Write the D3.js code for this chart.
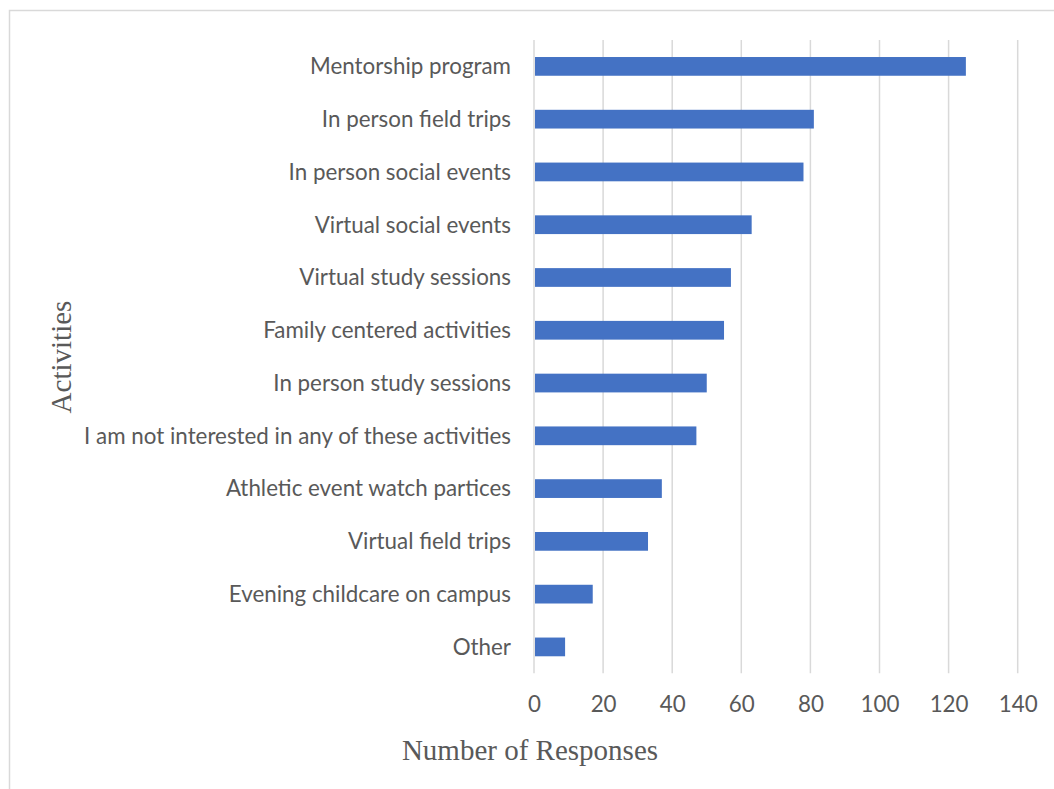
<!DOCTYPE html>
<html>
<head>
<meta charset="utf-8">
<script src="https://cdn.jsdelivr.net/npm/d3@7"></script>
<style>
  html, body { margin: 0; padding: 0; background: #fff; }
  svg { display: block; }
</style>
</head>
<body>
<svg id="chart" width="1054" height="789"></svg>
<script>
// Survey responses: interest in activities
const categories = [
  "Mentorship program",
  "In person field trips",
  "In person social events",
  "Virtual social events",
  "Virtual study sessions",
  "Family centered activities",
  "In person study sessions",
  "I am not interested in any of these activities",
  "Athletic event watch partices",
  "Virtual field trips",
  "Evening childcare on campus",
  "Other"
];
const responses = [125, 81, 78, 63, 57, 55, 50, 47, 37, 33, 17, 9];
const tickValues = [0, 20, 40, 60, 80, 100, 120, 140];
const xTitle = "Number of Responses";
const yTitle = "Activities";

const svg = d3.select("#chart");
const W = 1054, H = 789;
const plot = { left: 534, right: 1017.7, top: 40, bottom: 673.3 };
const barColor = "#4472C4";
const textColor = "#595959";
const gridColor = "#d9d9d9";
const labelFont = "Lato, 'Open Sans', sans-serif";
const titleFont = "'Liberation Serif', 'DejaVu Serif', serif";

// Outer chart frame (runs off the right and bottom edges)
svg.append("rect")
  .attr("x", 9.5).attr("y", 10.5)
  .attr("width", W + 20).attr("height", H + 20)
  .attr("fill", "none")
  .attr("stroke", gridColor)
  .attr("stroke-width", 1.5);

// Pick a label size so the longest category fits its space
function measure(text, font, size) {
  const t = svg.append("text").attr("font-family", font).attr("font-size", size).text(text);
  const w = t.node().getComputedTextLength();
  t.remove();
  return w;
}
const longest = categories.reduce((a, b) => (b.length > a.length ? b : a));
const labelSize = 20 * 427 / measure(longest, labelFont, 20);

const x = d3.scaleLinear().domain([0, 140]).range([plot.left, plot.right]);
const y = d3.scaleBand()
  .domain(categories)
  .range([plot.top, plot.bottom])
  .paddingInner(0.645)
  .paddingOuter(0.3225);

// Vertical gridlines
svg.append("g")
  .selectAll("line")
  .data(tickValues)
  .join("line")
  .attr("x1", d => x(d)).attr("x2", d => x(d))
  .attr("y1", plot.top).attr("y2", plot.bottom)
  .attr("stroke", gridColor)
  .attr("stroke-width", 1.5);

// Bars
svg.append("g")
  .selectAll("rect")
  .data(categories)
  .join("rect")
  .attr("x", x(0) + 1)
  .attr("y", d => y(d))
  .attr("width", (d, i) => x(responses[i]) - x(0) - 1)
  .attr("height", y.bandwidth())
  .attr("fill", barColor);

// Category axis
const yAxis = svg.append("g")
  .attr("transform", `translate(${plot.left},0)`)
  .call(d3.axisLeft(y).tickSize(0).tickPadding(23));
yAxis.select(".domain").remove();
yAxis.selectAll("text")
  .attr("font-family", labelFont)
  .attr("font-size", labelSize)
  .attr("fill", textColor)
  .attr("dy", "0.35em");

// Value axis
const xAxis = svg.append("g")
  .attr("transform", `translate(0,${plot.bottom})`)
  .call(d3.axisBottom(x).tickValues(tickValues).tickSize(0).tickFormat(d3.format("d")));
xAxis.select(".domain").remove();
xAxis.selectAll("text")
  .attr("font-family", labelFont)
  .attr("font-size", labelSize)
  .attr("fill", textColor)
  .attr("y", 39)
  .attr("dy", 0);

// Axis titles
svg.append("text")
  .attr("transform", "translate(71,357) rotate(-90)")
  .attr("text-anchor", "middle")
  .attr("font-family", titleFont)
  .attr("font-size", 29)
  .attr("fill", textColor)
  .text(yTitle);

svg.append("text")
  .attr("x", 530)
  .attr("y", 760)
  .attr("text-anchor", "middle")
  .attr("font-family", titleFont)
  .attr("font-size", 29)
  .attr("fill", textColor)
  .text(xTitle);
</script>
</body>
</html>
